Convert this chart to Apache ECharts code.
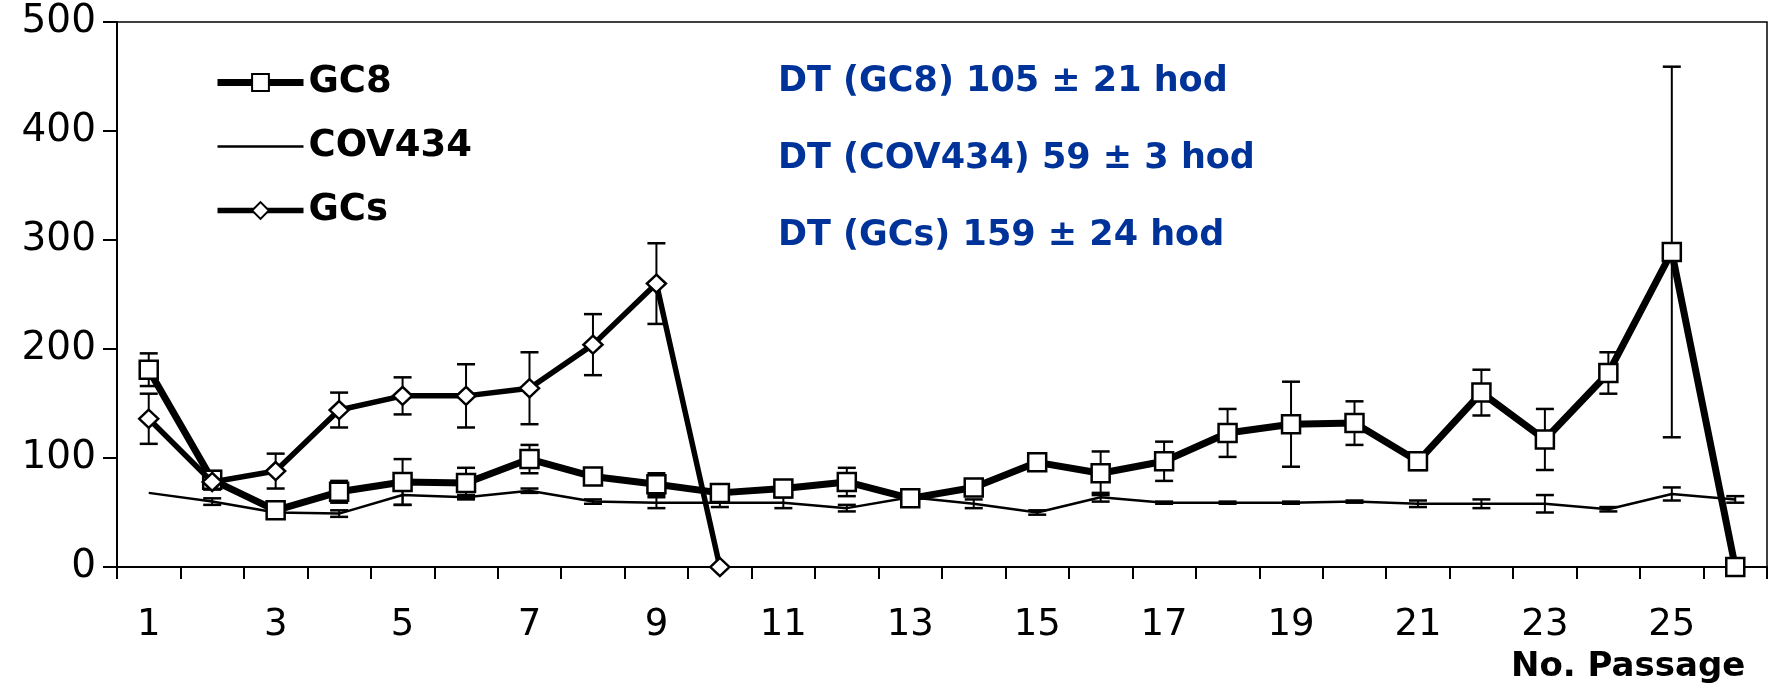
<!DOCTYPE html>
<html>
<head>
<meta charset="utf-8">
<script src="https://cdn.jsdelivr.net/npm/echarts@6/dist/echarts.min.js"></script>
<style>
  html, body { margin: 0; padding: 0; background: #fff; }
  #chart { width: 1768px; height: 689px; }
</style>
</head>
<body>
<div id="chart"></div>
<script>
// Passage numbers along the x axis
const passages = ['1','2','3','4','5','6','7','8','9','10','11','12','13',
                  '14','15','16','17','18','19','20','21','22','23','24','25','26'];

// GC8 cell line: mean value and error per passage
const gc8    = [181, 80, 52, 69, 78, 77, 99, 83, 76, 68, 72, 78, 63, 73, 96, 86, 97, 123, 131, 132, 97, 160, 117, 178, 289, 0];
const gc8Err = [15, 8, 7, 10, 21, 14, 13, 4, 10, 6, 5, 13, 0, 5, 3, 20, 18, 22, 39, 20, 8, 21, 28, 19, 170, 0];

// COV434 cell line
const cov434    = [68, 60, 50, 49, 66, 64, 70, 60, 59, 59, 59, 54, 64, 58, 50, 64, 59, 59, 59, 60, 58, 58, 58, 53, 67, 62];
const cov434Err = [0, 3, 3, 3, 9, 2, 2, 2, 5, 4, 5, 3, 0, 4, 2, 4, 1, 1, 1, 1, 3, 4, 8, 2, 6, 3];

// Primary granulosa cells (passages 1-10)
const gcs    = [136, 78, 88, 144, 157, 157, 164, 204, 260, 0];
const gcsErr = [23, 7, 16, 16, 17, 29, 33, 28, 37, 0];

// Doubling-time notes
const dtNotes = ['DT (GC8) 105 ± 21 hod', 'DT (COV434) 59 ± 3 hod', 'DT (GCs) 159 ± 24 hod'];
const axisTitle = 'No. Passage';

const FONT = 'DejaVu Sans';

function errorData(vals, errs) {
  const out = [];
  vals.forEach((v, i) => {
    if (errs[i] > 0) out.push([i, v - errs[i], v + errs[i]]);
  });
  return out;
}

// Vertical whisker with a short cap at each end
function renderErr(params, api) {
  const x = api.value(0);
  const lo = api.coord([x, api.value(1)]);
  const hi = api.coord([x, api.value(2)]);
  const hw = 9;
  const cap = { stroke: '#000', lineWidth: 2.5 };
  return {
    type: 'group',
    children: [
      { type: 'line', shape: { x1: hi[0], y1: hi[1], x2: lo[0], y2: lo[1] }, style: { stroke: '#000', lineWidth: 2 } },
      { type: 'line', shape: { x1: hi[0] - hw, y1: hi[1], x2: hi[0] + hw, y2: hi[1] }, style: cap },
      { type: 'line', shape: { x1: lo[0] - hw, y1: lo[1], x2: lo[0] + hw, y2: lo[1] }, style: cap }
    ]
  };
}

function errSeries(vals, errs) {
  return {
    type: 'custom',
    silent: true,
    z: 1,
    renderItem: renderErr,
    encode: { x: 0, y: [1, 2] },
    data: errorData(vals, errs)
  };
}

const chart = echarts.init(document.getElementById('chart'), null, { renderer: 'canvas' });

const option = {
  animation: false,
  backgroundColor: '#fff',
  grid: {
    left: 117, right: 1, top: 22, bottom: 122,
    show: true, borderColor: '#000', borderWidth: 1.5, backgroundColor: 'transparent'
  },
  legend: {
    orient: 'vertical',
    left: 214,
    top: 64,
    padding: 0,
    itemWidth: 86,
    itemHeight: 21,
    itemGap: 27,
    selectedMode: false,
    textStyle: { fontFamily: FONT, fontWeight: 'bold', fontSize: 37, color: '#000' },
    data: [
      { name: 'GC8', lineStyle: { width: 7, color: '#000' } },
      { name: 'COV434', icon: 'path://M0,0H86V2.5H0Z' },
      { name: 'GCs', lineStyle: { width: 5.5, color: '#000' } }
    ]
  },
  xAxis: {
    type: 'category',
    data: passages,
    boundaryGap: true,
    axisLine: { show: true, lineStyle: { color: '#000', width: 2 } },
    axisTick: { show: true, interval: 0, length: 12, lineStyle: { color: '#000', width: 2 } },
    axisLabel: { interval: 1, margin: 40, fontFamily: FONT, fontSize: 37, color: '#000' },
    splitLine: { show: false }
  },
  yAxis: {
    type: 'value',
    min: 0, max: 500, interval: 100,
    axisLine: { show: true, lineStyle: { color: '#000', width: 2 } },
    axisTick: { show: true, length: 14, lineStyle: { color: '#000', width: 2 } },
    axisLabel: { margin: 21, fontFamily: FONT, fontSize: 39, color: '#000' },
    splitLine: { show: false }
  },
  graphic: [
    ...dtNotes.map((t, i) => ({
      type: 'text',
      left: 778,
      top: 64 + i * 77,
      style: { text: t, font: 'bold 35px "' + FONT + '"', fill: '#003399' }
    })),
    {
      type: 'text',
      left: 1511,
      top: 650,
      style: { text: axisTitle, font: 'bold 34px "' + FONT + '"', fill: '#000' }
    }
  ],
  series: [
    errSeries(cov434, cov434Err),
    errSeries(gc8, gc8Err),
    errSeries(gcs, gcsErr),
    {
      name: 'COV434',
      type: 'line',
      z: 2,
      data: cov434,
      symbol: 'none',
      color: '#000',
      lineStyle: { color: '#000', width: 2.5 },
      itemStyle: { color: '#000' }
    },
    {
      name: 'GC8',
      type: 'line',
      z: 3,
      data: gc8,
      symbol: 'rect',
      symbolSize: 18,
      color: '#000',
      lineStyle: { color: '#000', width: 7 },
      itemStyle: { color: '#fff', borderColor: '#000', borderWidth: 2.5 }
    },
    {
      name: 'GCs',
      type: 'line',
      z: 4,
      data: gcs,
      symbol: 'diamond',
      symbolSize: [19, 18],
      color: '#000',
      lineStyle: { color: '#000', width: 5.5 },
      itemStyle: { color: '#fff', borderColor: '#000', borderWidth: 2.5 }
    }
  ]
};

chart.setOption(option);
</script>
</body>
</html>
